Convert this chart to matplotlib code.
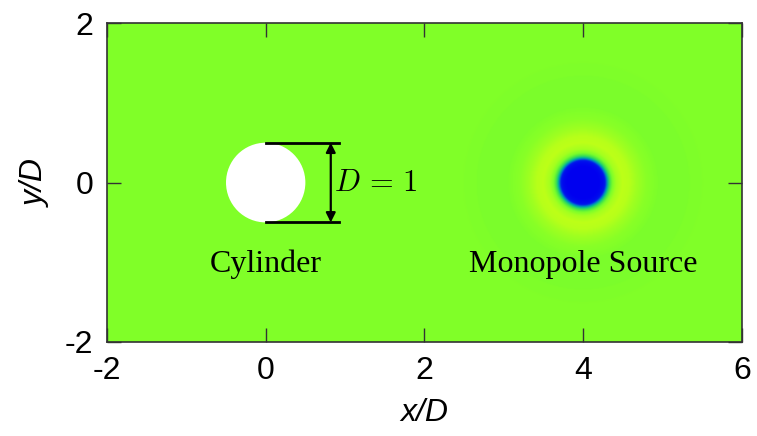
import numpy as np
import matplotlib
matplotlib.use('Agg')
import matplotlib.pyplot as plt
from matplotlib.colors import LinearSegmentedColormap
from matplotlib.patches import Circle

# radial pressure profile of the monopole source (distance in D, normalised value)
profile_r = [0.0, 0.20, 0.25, 0.29, 0.33, 0.37, 0.42, 0.50, 0.58, 0.68, 0.80, 0.95, 1.10, 1.30, 1.50]
profile_p = [-1.0, -1.0, -0.85, -0.5, -0.22, -0.02, 0.12, 0.2, 0.18, 0.1, 0.03, -0.01, -0.015, -0.01, 0.0]

source_xy = (4.0, 0.0)
cylinder_xy = (0.0, 0.0)
cylinder_d = 1.0

x_ticks = [-2, 0, 2, 4, 6]
y_ticks = [-2, 0, 2]
labels = ['Cylinder', 'Monopole Source']
label_x = [0.0, 4.0]
label_y = -1.03

# palette: blue (negative) -> green (zero) -> yellow/red (positive)
cmap = LinearSegmentedColormap.from_list('field', [
    (0.00, (0.00, 0.00, 0.94)),
    (0.20, (0.00, 0.10, 0.92)),
    (0.27, (0.00, 0.45, 0.80)),
    (0.33, (0.00, 0.72, 0.60)),
    (0.42, (0.28, 0.90, 0.28)),
    (0.50, (0.50, 1.00, 0.16)),
    (0.65, (0.86, 1.00, 0.06)),
    (0.80, (1.00, 0.78, 0.00)),
    (1.00, (1.00, 0.00, 0.00)),
])


def main():
    nx, ny = 800, 400
    xs = np.linspace(-2, 6, nx)
    ys = np.linspace(-2, 2, ny)
    X, Y = np.meshgrid(xs, ys)
    R = np.hypot(X - source_xy[0], Y - source_xy[1])
    P = np.interp(R, profile_r, profile_p)

    plt.rcParams['font.family'] = ['Liberation Sans', 'DejaVu Sans']
    plt.rcParams['mathtext.fontset'] = 'cm'
    plt.rcParams['axes.unicode_minus'] = False

    fig = plt.figure(figsize=(7.57, 4.36), dpi=100)
    ax = fig.add_axes([0.1413, 0.2156, 0.8387, 0.7314])

    ax.imshow(P, extent=(-2, 6, -2, 2), origin='lower', cmap=cmap,
              vmin=-1, vmax=1, interpolation='bicubic', aspect='auto')

    ax.add_patch(Circle(cylinder_xy, cylinder_d / 2, facecolor='white',
                        edgecolor='none', zorder=3))

    # dimension lines for the diameter
    top = cylinder_xy[1] + cylinder_d / 2
    bot = cylinder_xy[1] - cylinder_d / 2
    ax.plot([0.0, 0.93], [top, top], color='black', lw=2, zorder=4)
    ax.plot([0.0, 0.93], [bot, bot], color='black', lw=2, zorder=4)
    ax.annotate('', xy=(0.82, top), xytext=(0.82, bot),
                arrowprops=dict(arrowstyle='<|-|>', color='black', lw=1.6,
                                mutation_scale=14, shrinkA=0, shrinkB=0),
                zorder=4)
    ax.text(0.86, 0.0, r'$D\,=\,1$', fontsize=22, va='center', ha='left')

    for name, lx in zip(labels, label_x):
        ax.text(lx, label_y, name, fontsize=23, ha='center', va='center',
                family=['Liberation Serif', 'DejaVu Serif'])

    ax.set_xlim(-2, 6)
    ax.set_ylim(-2, 2)
    ax.set_xticks(x_ticks)
    ax.set_yticks(y_ticks)
    ax.tick_params(direction='in', length=10, width=1, top=True, right=True,
                   labelsize=23, pad=10, color='#333333')
    for sp in ax.spines.values():
        sp.set_color('#333333')
        sp.set_linewidth(1.2)

    ax.set_xlabel('x/D', fontsize=23, style='italic', labelpad=9)
    ax.set_ylabel('y/D', fontsize=23, style='italic', labelpad=10)

    fig.savefig('out.png', dpi=100)


if __name__ == '__main__':
    main()
